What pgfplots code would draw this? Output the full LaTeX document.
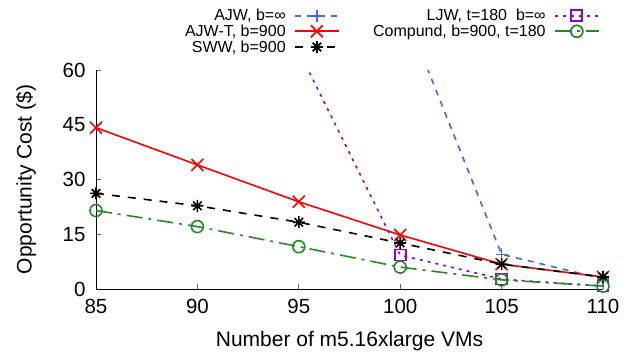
\documentclass[border=0pt]{standalone}
\usepackage{fontspec}
\setmainfont{Liberation Sans}
\usepackage{pgfplots}
\pgfplotsset{compat=1.18}
\definecolor{cblue}{RGB}{65,105,225}
\definecolor{cred}{RGB}{255,0,0}
\definecolor{cpurple}{RGB}{148,0,211}
\definecolor{cgreen}{RGB}{34,139,34}
\pgfdeclareplotmark{gpstar}{%
  \pgfpathmoveto{\pgfqpoint{-\pgfplotmarksize}{0pt}}\pgfpathlineto{\pgfqpoint{\pgfplotmarksize}{0pt}}%
  \pgfpathmoveto{\pgfqpoint{0pt}{-\pgfplotmarksize}}\pgfpathlineto{\pgfqpoint{0pt}{\pgfplotmarksize}}%
  \pgfpathmoveto{\pgfqpoint{-.7071\pgfplotmarksize}{-.7071\pgfplotmarksize}}\pgfpathlineto{\pgfqpoint{.7071\pgfplotmarksize}{.7071\pgfplotmarksize}}%
  \pgfpathmoveto{\pgfqpoint{-.7071\pgfplotmarksize}{.7071\pgfplotmarksize}}\pgfpathlineto{\pgfqpoint{.7071\pgfplotmarksize}{-.7071\pgfplotmarksize}}%
  \pgfusepathqstroke}
\begin{document}
\begin{tikzpicture}
\path[use as bounding box] (0,0) rectangle (637pt,357pt);
\begin{axis}[
  at={(96pt,68pt)}, anchor=south west,
  scale only axis, width=507pt, height=219pt,
  xmin=85, xmax=110, ymin=0, ymax=60,
  xtick={85,90,...,110}, ytick={0,15,...,60},
  axis lines*=left, tick align=inside, major tick length=5pt,
  axis line style={line width=0.9pt},
  tick style={line width=0.9pt, color=black!60},
  clip mode=individual,
  /pgf/number format/assume math mode=true,
  ticklabel style={font=\fontsize{20.5}{22}\selectfont},
  yticklabel style={xshift=-7pt},
  xticklabel style={yshift=-7pt},
  xlabel={Number of m5.16xlarge VMs},
  ylabel={Opportunity Cost (\$)},
  label style={font=\fontsize{21}{23}\selectfont},
  xlabel style={at={(axis description cs:0.5,-0.24)}, anchor=center},
  ylabel style={at={(axis description cs:-0.138,0.5)}, anchor=center},
  legend columns=2,
  legend cell align=right,
  legend plot pos=right,
  legend style={at={(axis description cs:0.994,1.285)}, anchor=north east, draw=none, fill=none,
    font=\fontsize{16}{16}\selectfont, inner sep=0pt,
    nodes={inner sep=1.3pt},
    /tikz/every odd column/.append style={column sep=7pt},
    /tikz/every even column/.append style={column sep=32pt}},
  legend image code/.code={\draw[mark repeat=2,mark phase=2,#1] plot coordinates {(0pt,0pt) (22pt,0pt) (44pt,0pt)};},
  every axis plot/.append style={line width=1.6pt, mark options={solid, line width=1.6pt}},
]
\addplot[forget plot, color=cblue, dash pattern=on 6pt off 6pt, mark=+, mark size=6pt] coordinates {(100,79) (105,9.5) (110,2.8)};
\addplot[forget plot, color=cred, solid, mark=x, mark size=8.5pt] coordinates {(85,44.2) (90,34.0) (95,23.9) (100,14.8) (105,6.8) (110,3.3)};
\addplot[forget plot, color=black, dash pattern=on 8pt off 8pt, mark=gpstar, mark size=6pt] coordinates {(85,26.2) (90,22.8) (95,18.3) (100,12.6) (105,6.8) (110,3.3)};
\addplot[forget plot, color=cpurple, dash pattern=on 3pt off 5pt, mark=square, mark size=5.5pt] coordinates {(95,65.2) (100,9.3) (105,2.7) (110,0.8)};
\addplot[forget plot, color=cgreen, dash pattern=on 16pt off 6pt on 3pt off 6pt, mark=o, mark size=6pt] coordinates {(85,21.5) (90,17.1) (95,11.6) (100,6.0) (105,2.5) (110,0.8)};

\addlegendimage{line width=1.8pt, color=cblue, dash pattern=on 6pt off 6pt, mark=+, mark size=6pt, mark options={solid, line width=1.8pt}}
\addlegendentry{AJW, b=∞}
\addlegendimage{line width=1.8pt, color=cpurple, dash pattern=on 3pt off 5pt, mark=square, mark size=5.5pt, mark options={solid, line width=1.8pt}}
\addlegendentry{LJW, t=180\ \ b=∞}
\addlegendimage{line width=1.8pt, color=cred, solid, mark=x, mark size=8.5pt, mark options={solid, line width=1.8pt}}
\addlegendentry{AJW-T, b=900}
\addlegendimage{line width=1.8pt, color=cgreen, dash pattern=on 16pt off 6pt on 3pt off 6pt, mark=o, mark size=6pt, mark options={solid, line width=1.8pt}}
\addlegendentry{Compund, b=900, t=180}
\addlegendimage{line width=1.8pt, color=black, dash pattern=on 8pt off 8pt, mark=gpstar, mark size=6pt, mark options={solid, line width=1.8pt}}
\addlegendentry{SWW, b=900}
\end{axis}
\end{tikzpicture}
\end{document}
